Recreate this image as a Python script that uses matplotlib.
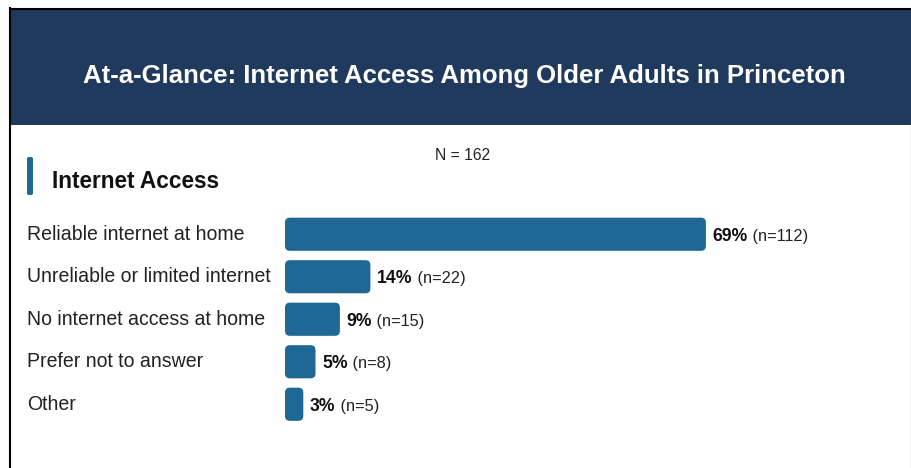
import matplotlib.pyplot as plt
from matplotlib import font_manager
from matplotlib.patches import FancyBboxPatch, Rectangle
from matplotlib.transforms import blended_transform_factory

# survey results
categories = [
    'Reliable internet at home',
    'Unreliable or limited internet',
    'No internet access at home',
    'Prefer not to answer',
    'Other',
]
percents = [69, 14, 9, 5, 3]
counts = [112, 22, 15, 8, 5]
total_n = 162

title = 'At-a-Glance: Internet Access Among Older Adults in Princeton'
section = 'Internet Access'

NAVY = '#1f3a5d'
BLUE = '#1f6795'

names = {f.name for f in font_manager.fontManager.ttflist}
NARROW = 'Liberation Sans Narrow' in names
FONT = 'Liberation Sans Narrow' if NARROW else 'Liberation Sans'
plt.rcParams['font.family'] = [FONT, 'DejaVu Sans']
# regular-width fallback needs smaller sizes to fit the same space
k = 1.0 if NARROW else 0.88

W, H = 912, 468
fig = plt.figure(figsize=(W / 100, H / 100), dpi=100)
fig.patch.set_facecolor('white')


def fx(px):
    return px / W


def fy(py):
    return 1 - py / H


# frame and header band
fig.add_artist(Rectangle((fx(10), fy(125)), fx(902), fy(8) - fy(125),
                         transform=fig.transFigure, facecolor=NAVY, edgecolor='none'))
fig.add_artist(plt.Line2D([fx(10.5), fx(10.5)], [fy(8), 0], transform=fig.transFigure,
                          color='black', lw=1.5))
fig.add_artist(plt.Line2D([fx(10), 1], [fy(8.5), fy(8.5)], transform=fig.transFigure,
                          color='black', lw=1.5))
fig.add_artist(plt.Line2D([fx(911), fx(911)], [fy(125), 0], transform=fig.transFigure,
                          color='#bbbbbb', lw=1))

fig.text(fx(464), fy(76), title, color='white', fontsize=22 * k * 0.96, fontweight='bold',
         ha='center', va='center')

# section heading with accent mark
fig.add_artist(FancyBboxPatch((fx(27), fy(195)), fx(6), fy(157) - fy(195),
                              boxstyle='round,pad=0,rounding_size=0.003',
                              transform=fig.transFigure, facecolor=BLUE, edgecolor='none',
                              mutation_aspect=H / W * 2))
fig.text(fx(52), fy(181), section, color='#111111', fontsize=18 * k * 1.03, fontweight='bold',
         ha='left', va='center')
fig.text(fx(463), fy(156), f'N = {total_n}', color='#222222', fontsize=11 / k * 0.9,
         ha='center', va='center')

# bar area: 6.1 px per percent, 42.5 px per row
px_per_pct = 6.1
ax = fig.add_axes([fx(285), fy(425.5), fx(100 * px_per_pct), (425.5 - 213) / H])
ax.set_xlim(0, 100)
ax.set_ylim(len(categories) - 0.5, -0.5)
ax.axis('off')

ypos = list(range(len(categories)))
bars = ax.barh(ypos, percents, height=0.78, color=BLUE)
aspect = px_per_pct / 42.5
for bar in bars:
    x0, y0 = bar.get_xy()
    w, h = bar.get_width(), bar.get_height()
    bar.remove()
    ax.add_patch(FancyBboxPatch((x0, y0), w, h,
                                boxstyle='round,pad=0,rounding_size=0.8',
                                mutation_aspect=aspect, facecolor=BLUE, edgecolor='none'))

trans = blended_transform_factory(fig.transFigure, ax.transData)
for y, cat in zip(ypos, categories):
    ax.text(fx(27), y, cat, transform=trans, fontsize=15.5 * k * 1.03, color='#222222',
            ha='left', va='center')

for y, p, n in zip(ypos, percents, counts):
    t = ax.text(p + 1.1, y + 0.05, f'{p}%', fontsize=13.5 * k * 1.07, fontweight='bold',
                color='#111111', ha='left', va='center')
    ax.annotate(f' (n={n})', xy=(1, 0.5), xycoords=t, fontsize=12.5 * k * 1.07,
                color='#222222', ha='left', va='center')

fig.savefig('out.png', dpi=100)
